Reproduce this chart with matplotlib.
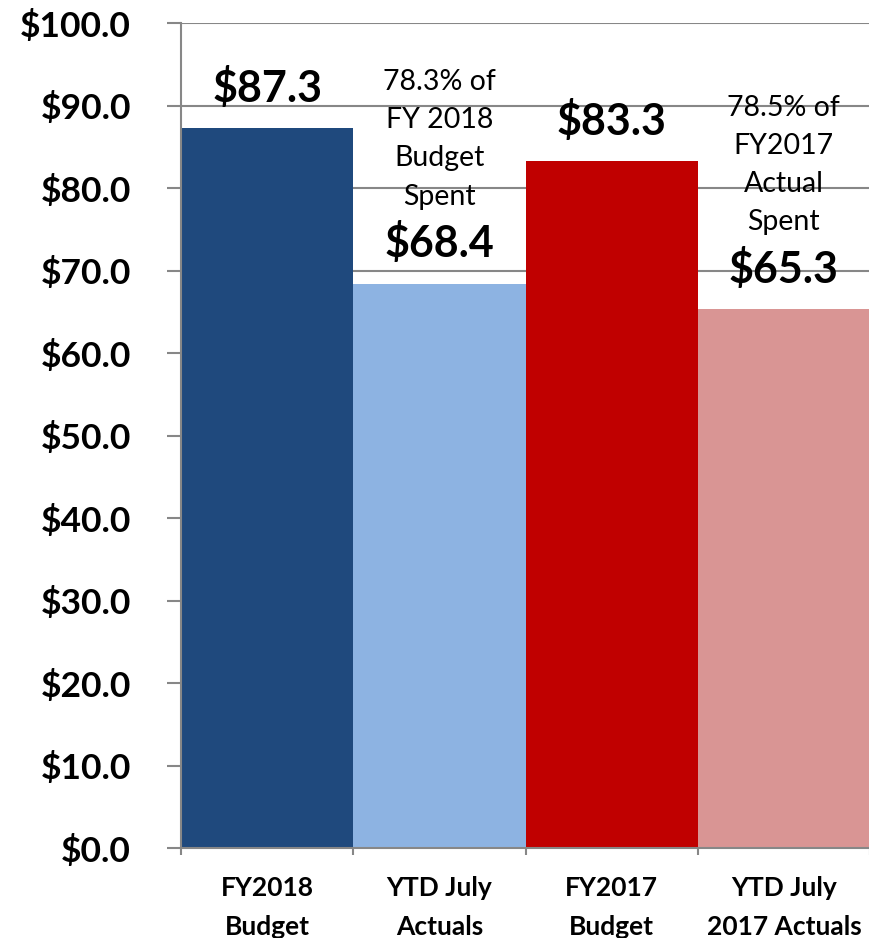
import matplotlib
matplotlib.use("Agg")
import matplotlib.pyplot as plt
from matplotlib.ticker import FuncFormatter, FixedLocator

# data
categories = ["FY2018\nBudget", "YTD July\nActuals", "FY2017\nBudget", "YTD July\n2017 Actuals"]
values = [87.3, 68.4, 83.3, 65.3]
bar_colors = ["#1F497D", "#8DB3E2", "#C00000", "#D99594"]
notes = {1: "78.3% of\nFY 2018\nBudget\nSpent", 3: "78.5% of\nFY2017\nActual\nSpent"}

plt.rcParams['font.family'] = ['Lato', 'DejaVu Sans']
grid_col = "#878787"

fig = plt.figure(figsize=(8.69, 9.38), dpi=100)
ax = fig.add_axes([0.2083, 0.0959, 0.7929, 0.8795])

x = list(range(len(values)))
ax.bar(x, values, width=1.0, color=bar_colors, zorder=2)

ax.set_xlim(-0.5, len(values) - 0.5)
ax.set_ylim(0, 100)

# gridlines behind bars
ax.set_yticks(range(0, 101, 10))
ax.yaxis.grid(True, color=grid_col, linewidth=1.5)
ax.set_axisbelow(True)
ax.yaxis.set_major_formatter(FuncFormatter(lambda v, p: f"${v:.1f}"))
ax.tick_params(axis='y', length=10, width=1.5, color=grid_col, pad=26,
               labelsize=25.5)
for lab in ax.get_yticklabels():
    lab.set_fontweight('bold')

# category labels, boundary ticks
ax.set_xticks(x)
ax.set_xticklabels(categories, fontsize=19, fontweight='bold', linespacing=1.75)
ax.tick_params(axis='x', which='major', length=0, pad=20)
ax.xaxis.set_minor_locator(FixedLocator([i - 0.5 for i in range(len(values) + 1)]))
ax.tick_params(axis='x', which='minor', length=5, width=1.5, color=grid_col)

for s in ['top', 'right']:
    ax.spines[s].set_visible(False)
for s in ['left', 'bottom']:
    ax.spines[s].set_color(grid_col)
    ax.spines[s].set_linewidth(1.5)

# value labels
for i, v in enumerate(values):
    ax.annotate(f"${v:.1f}", (i, v), xytext=(0, 29), textcoords='offset points',
                ha='center', va='center', fontsize=31, fontweight='bold', zorder=3)
    if i in notes:
        ax.annotate(notes[i], (i, v), xytext=(0, 104), textcoords='offset points',
                    ha='center', va='center', fontsize=20.5, linespacing=1.58, zorder=3)

fig.savefig("out.png", dpi=100)
